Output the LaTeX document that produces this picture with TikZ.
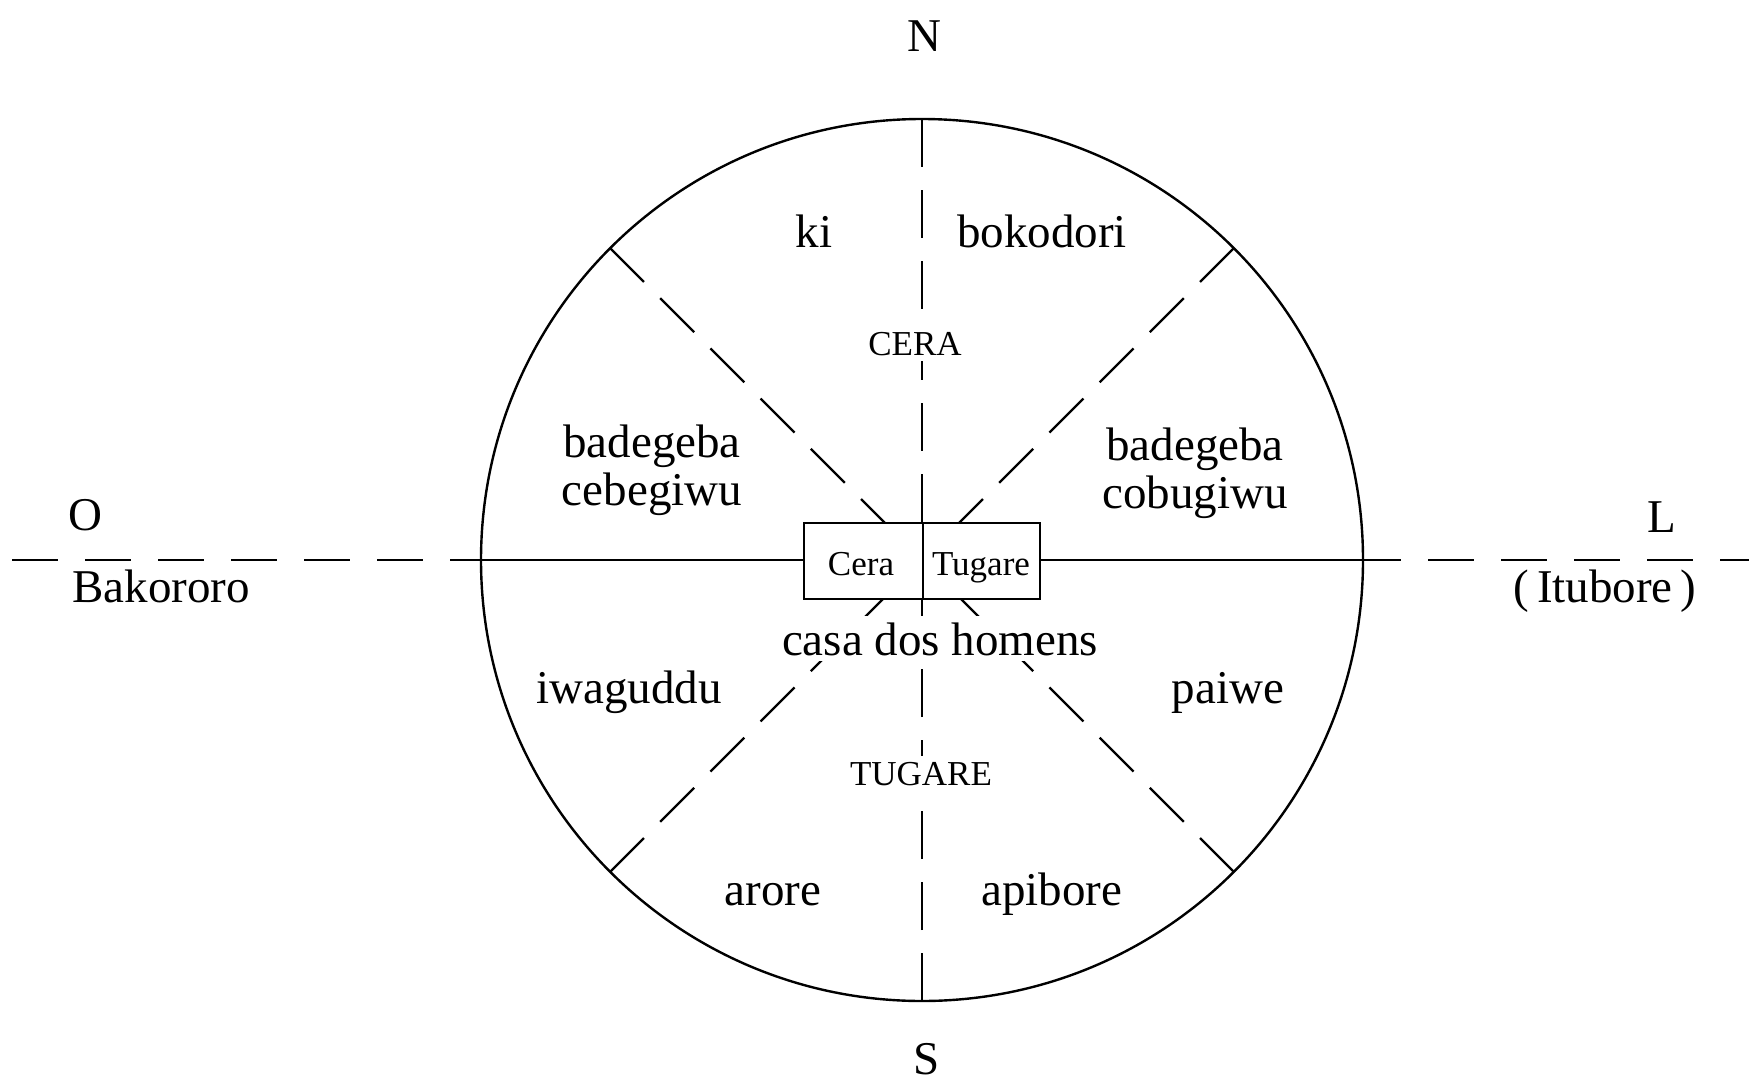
\documentclass[tikz,border=0pt]{standalone}
\usepackage{fontspec}
\setmainfont{Liberation Serif}
\begin{document}
\begin{tikzpicture}[x=0.5pt,y=-0.5pt,
  lw/.style={line width=1.2pt},
  dsh/.style={lw, dash pattern=on 24pt off 11.5pt},
  hdsh/.style={lw, dash pattern=on 23pt off 13.5pt},
  lab/.style={font=\fontsize{23.5pt}{26pt}\selectfont, inner sep=0pt, anchor=base},
  sml/.style={font=\fontsize{17.5pt}{20pt}\selectfont, inner sep=0pt, anchor=base},
  cut/.style={fill=white, inner sep=3pt},
  cell/.style={draw, lw, fill=white, minimum height=38pt, inner sep=0pt}]
\useasboundingbox (0,0) rectangle (1749,1081);
\coordinate (c) at (922,560);
\coordinate (top) at (922,119);
\coordinate (bot) at (922,1001);
\coordinate (lft) at (481,560);
\coordinate (rgt) at (1363,560);
\coordinate (farl) at (12,560);
\coordinate (rst) at (1355,560);
\coordinate (farr) at (1749,560);
\coordinate (nw) at (610,248);
\coordinate (ne) at (1234,248);
\coordinate (sw) at (610,872);
\coordinate (se) at (1234,872);
% circle and axes
\draw[lw] (c) circle[radius=220.5pt];
\draw[lw] (lft) -- (rgt);
\draw[hdsh] (farl) -- (lft);
\draw[hdsh] (rst) -- (farr);
\draw[dsh] (nw) -- (c);
\draw[dsh] (ne) -- (c);
\draw[dsh] (sw) -- (c);
\draw[dsh] (se) -- (c);
\draw[dsh] (top) -- (c);
\draw[dsh] (bot) -- (c);
% men's house
\node[cell, minimum width=59.5pt] (cerabox) at (863.5,561) {};
\node[cell, minimum width=58.5pt] (tugbox) at (981.5,561) {};
\node[sml] (ceratxt) at (861,575) {Cera};
\node[sml] (tugtxt) at (981,575) {Tugare};
% cardinal points
\node[lab] (n) at (924,52) {N};
\node[lab] (s) at (927,1074) {S};
\node[lab] (o) at (85,530) {O};
\node[lab] (l) at (1662,532) {L};
\node[lab, anchor=base west] (bak) at (72,602) {Bakororo};
\node[lab] (itu) at (1605,602) {(\,Itubore\,)};
% clans
\node[lab] (ki) at (814,247) {ki};
\node[lab] (bok) at (1042,247) {bokodori};
\node[sml, cut] (cera) at (915,355) {CERA};
\node[lab] (bw1) at (652,457) {badegeba};
\node[lab] (bw2) at (652,505) {cebegiwu};
\node[lab] (be1) at (1195,460) {badegeba};
\node[lab] (be2) at (1195,508) {cobugiwu};
\node[lab, cut] (casa) at (940,655) {casa dos homens};
\node[lab] (iwa) at (629,703) {iwaguddu};
\node[lab] (pai) at (1228,703) {paiwe};
\node[sml, cut] (tug) at (921,785) {TUGARE};
\node[lab] (aro) at (773,905) {arore};
\node[lab] (api) at (1052,905) {apibore};
\end{tikzpicture}
\end{document}
